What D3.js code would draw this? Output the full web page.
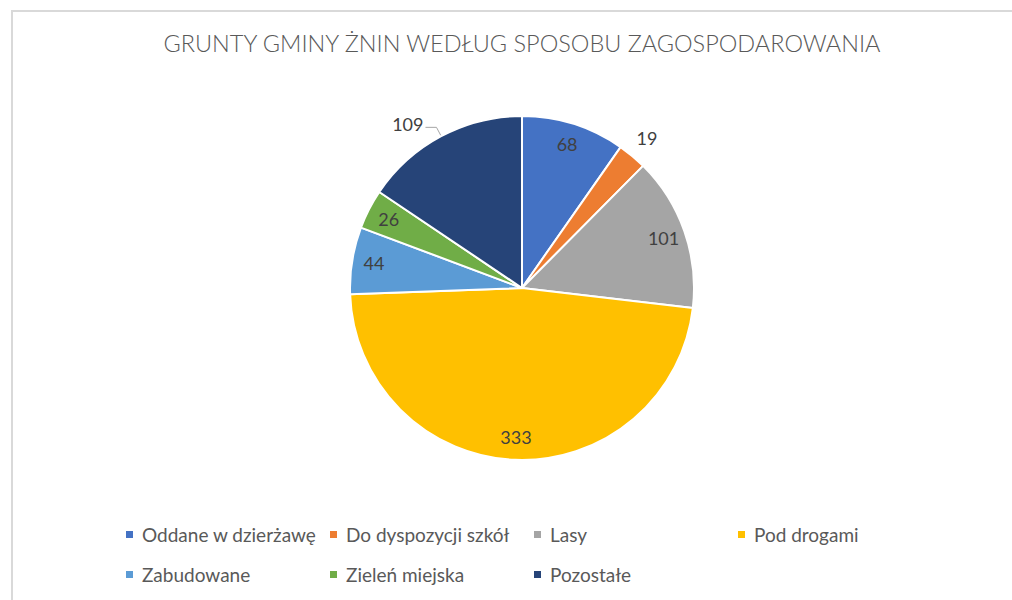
<!DOCTYPE html>
<meta charset="utf-8">
<style>
body { margin: 0; background: #fff; }
svg { font-family: Lato, "Open Sans", sans-serif; }
.title { fill: #595959; font-size: 23px; font-weight: 300; }
.lbl { fill: #404040; font-size: 18px; }
.legend text { fill: #595959; font-size: 19px; }
</style>
<svg width="1012" height="600"></svg>
<script src="https://d3js.org/d3.v7.min.js"></script>
<script>

var categories = ["Oddane w dzierżawę", "Do dyspozycji szkół", "Lasy", "Pod drogami",
                  "Zabudowane", "Zieleń miejska", "Pozostałe"];
var values = [68, 19, 101, 333, 44, 26, 109];
var colors = ["#4472C4", "#ED7D31", "#A5A5A5", "#FFC000", "#5B9BD5", "#70AD47", "#264478"];
// labels that Excel pushed outside the pie
var outsideLabels = ["Do dyspozycji szkół", "Pozostałe"];
var title = "GRUNTY GMINY ŻNIN WEDŁUG SPOSOBU ZAGOSPODAROWANIA";

var svg = d3.select("svg"),
    width = +svg.attr("width"),
    height = +svg.attr("height");

// chart frame
svg.append("rect")
    .attr("x", 12).attr("y", 11)
    .attr("width", 1100).attr("height", 700)
    .attr("fill", "none")
    .attr("stroke", "#d9d9d9")
    .attr("stroke-width", 2);

svg.append("text")
    .attr("class", "title")
    .attr("x", 522)
    .attr("y", 52)
    .attr("text-anchor", "middle")
    .attr("textLength", 717)
    .attr("lengthAdjust", "spacingAndGlyphs")
    .text(title);

var cx = 522, cy = 288, radius = 172;

var color = d3.scaleOrdinal().domain(categories).range(colors);

var pie = d3.pie().sort(null).value(function(d) { return d.value; });
var data = categories.map(function(c, i) { return {name: c, value: values[i]}; });
var arcs = pie(data);

var arc = d3.arc().innerRadius(0).outerRadius(radius);
var labelArc = d3.arc().innerRadius(150).outerRadius(150);
var outArc = d3.arc().innerRadius(195).outerRadius(195);
var edgeArc = d3.arc().innerRadius(173).outerRadius(173);
var elbowArc = d3.arc().innerRadius(182).outerRadius(182);

var g = svg.append("g").attr("transform", "translate(" + cx + "," + cy + ")");

g.selectAll("path.slice")
  .data(arcs)
  .enter().append("path")
    .attr("class", "slice")
    .attr("d", arc)
    .attr("fill", function(d) { return color(d.data.name); })
    .attr("stroke", "#fff")
    .attr("stroke-width", 2)
    .attr("stroke-linejoin", "round");

// inside labels
g.selectAll("text.in")
  .data(arcs.filter(function(d) { return outsideLabels.indexOf(d.data.name) < 0; }))
  .enter().append("text")
    .attr("class", "lbl")
    .attr("transform", function(d) { return "translate(" + labelArc.centroid(d) + ")"; })
    .attr("text-anchor", "middle")
    .attr("dy", "0.35em")
    .text(function(d) { return d.data.value; });

// outside labels
arcs.filter(function(d) { return outsideLabels.indexOf(d.data.name) >= 0; }).forEach(function(d) {
  var mid = (d.startAngle + d.endAngle) / 2;
  if (mid < Math.PI) {
    var p = outArc.centroid(d);
    g.append("text")
      .attr("class", "lbl")
      .attr("x", p[0]).attr("y", p[1])
      .attr("text-anchor", "middle")
      .attr("dy", "0.35em")
      .text(d.data.value);
  } else {
    var a = edgeArc.centroid(d), b = elbowArc.centroid(d);
    var c = [b[0] - 11, b[1]];
    g.append("polyline")
      .attr("points", [a, b, c].map(function(p) { return p.join(","); }).join(" "))
      .attr("fill", "none")
      .attr("stroke", "#a6a6a6")
      .attr("stroke-width", 1);
    g.append("text")
      .attr("class", "lbl")
      .attr("x", c[0] - 2).attr("y", c[1] - 3)
      .attr("text-anchor", "end")
      .attr("dy", "0.35em")
      .text(d.data.value);
  }
});

// legend: 4 columns, 2 rows
var col = d3.scaleBand().domain(d3.range(4)).range([126, 126 + 4 * 204]);
var row = d3.scalePoint().domain([0, 1]).range([535, 575]);

var legend = svg.append("g").attr("class", "legend");
var item = legend.selectAll("g")
  .data(categories)
  .enter().append("g")
    .attr("transform", function(d, i) {
      return "translate(" + col(i % 4) + "," + row(Math.floor(i / 4)) + ")";
    });
item.append("rect")
    .attr("x", 0).attr("y", -4)
    .attr("width", 7).attr("height", 7)
    .attr("fill", function(d) { return color(d); });
item.append("text")
    .attr("x", 16)
    .attr("dy", "0.35em")
    .text(function(d) { return d; });

</script>
